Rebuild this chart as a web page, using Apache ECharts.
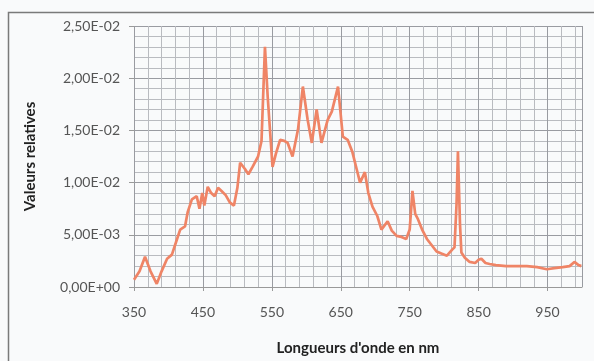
<!DOCTYPE html>
<html>
<head>
<meta charset="utf-8">
<script src="https://cdn.jsdelivr.net/npm/echarts@6/dist/echarts.min.js"></script>
<style>
html,body{margin:0;padding:0;background:#ffffff;}
#c{width:594px;height:361px;}
</style>
</head>
<body>
<div id="c"></div>
<script>
// Wavelengths (nm)
const wavelengths = [350,358,366,374,383,390,398,405,412,417,424,428,434,441,445,449,452,457,462,467,472,477,483,489,495,500,504,511,516,522,530,535,540,544,551,556,562,568,573,580,588,595,602,608,615,622,631,637,646,653,660,667,673,678,685,690,696,703,709,718,724,731,738,745,750,754,758,762,768,775,782,789,796,804,812,815,818,820,823,825,830,837,845,850,854,860,866,875,890,905,920,935,949,960,972,982,989,995,999];
// Relative values
const values = [0.0007,0.0015,0.0029,0.0015,0.0003,0.0015,0.0027,0.0031,0.0045,0.0055,0.0058,0.0072,0.0084,0.0087,0.0075,0.0090,0.0078,0.0096,0.0090,0.0087,0.0095,0.0092,0.0088,0.0081,0.0078,0.0095,0.0119,0.0113,0.0108,0.0115,0.0125,0.0140,0.0230,0.0182,0.0115,0.0128,0.0141,0.0140,0.0138,0.0125,0.0151,0.0192,0.0160,0.0138,0.0170,0.0138,0.0160,0.0168,0.0192,0.0144,0.0141,0.0129,0.0113,0.0100,0.0110,0.0090,0.0077,0.0068,0.0055,0.0063,0.0054,0.0049,0.0048,0.0046,0.0055,0.0092,0.0070,0.0065,0.0055,0.0046,0.0040,0.0034,0.0032,0.0030,0.0036,0.0038,0.0080,0.0130,0.0060,0.0033,0.0028,0.0024,0.0023,0.0026,0.0027,0.0023,0.0022,0.0021,0.0020,0.0020,0.0020,0.0019,0.0017,0.0018,0.0019,0.0020,0.0024,0.0021,0.0020];
// Tick labels
const yTickLabels = {"0":"0,00E+00","0.005":"5,00E-03","0.01":"1,00E-02","0.015":"1,50E-02","0.02":"2,00E-02","0.025":"2,50E-02"};
const xTitle = "Longueurs d'onde en nm";
const yTitle = "Valeurs relatives";

const seriesData = wavelengths.map((w,i)=>[w, values[i]]);

const chart = echarts.init(document.getElementById('c'), null, {renderer:'canvas'});
const FF = 'Lato, "Open Sans", "Liberation Sans", sans-serif';
const labelFont = {color:'#555555', fontSize:14, fontFamily:FF};
chart.setOption({
  backgroundColor:'#f9fafb',
  animation:false,
  graphic:[{type:'rect', shape:{x:8.5,y:12.5,width:590,height:360}, style:{fill:'none', stroke:'#7a7a7a', lineWidth:1.5}, silent:true}],
  grid:{left:134, right:12, top:26, bottom:73, containLabel:false},
  xAxis:{
    type:'value', min:350, max:1000, interval:100,
    name:xTitle, nameLocation:'middle', nameGap:54,
    nameTextStyle:{color:'#222', fontSize:15, fontWeight:'bold', fontFamily:FF},
    axisLine:{show:true, lineStyle:{color:'#999', width:1}},
    axisTick:{show:true, length:4, lineStyle:{color:'#999'}},
    minorTick:{show:false, splitNumber:5},
    axisLabel:Object.assign({margin:18, showMaxLabel:false}, labelFont),
    splitLine:{show:true, lineStyle:{color:'#999ba1', width:1}},
    minorSplitLine:{show:true, lineStyle:{color:'#b9bbc0', width:1}}
  },
  yAxis:{
    type:'value', min:0, max:0.025, interval:0.005,
    name:yTitle, nameLocation:'middle', nameGap:96, nameRotate:90,
    nameTextStyle:{color:'#222', fontSize:15, fontWeight:'bold', fontFamily:FF},
    axisLine:{show:false},
    axisTick:{show:true, length:5, lineStyle:{color:'#999'}},
    minorTick:{show:false, splitNumber:5},
    axisLabel:Object.assign({margin:14, formatter:(v)=>{const k=String(+v.toFixed(4)); return yTickLabels[k]||'';}}, labelFont),
    splitLine:{show:true, lineStyle:{color:'#999ba1', width:1}},
    minorSplitLine:{show:true, lineStyle:{color:'#b9bbc0', width:1}}
  },
  series:[{
    type:'line', data:seriesData, showSymbol:false, smooth:false,
    lineStyle:{color:'#ef8466', width:2.7},
    itemStyle:{color:'#ef8466'}
  }]
});
</script>
</body>
</html>
